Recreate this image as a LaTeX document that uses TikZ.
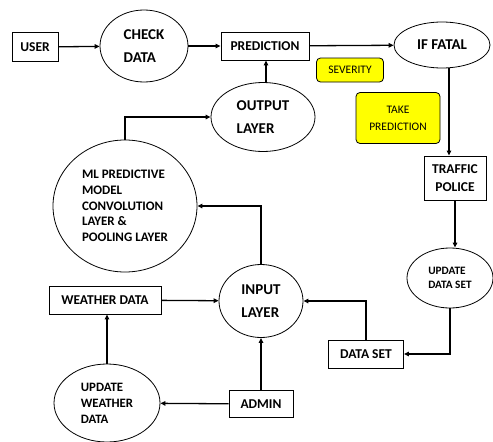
\documentclass[tikz,border=0pt]{standalone}
\usepackage{fontspec}
\setmainfont{Carlito}
\usetikzlibrary{arrows.meta, shapes.geometric, positioning}
\definecolor{noteyellow}{rgb}{1, 1, 0}

\begin{document}
\begin{tikzpicture}[
	x=1pt, y=-1pt,
	texts/.style = {text=black, font=\bfseries\fontsize{13.5}{18}\selectfont},
	bigtexts/.style = {text=black, font=\bfseries\fontsize{15}{23}\selectfont},
	box/.style = {texts, draw, line width=0.9pt, rectangle, inner sep=0pt},
	oval/.style = {bigtexts, draw, line width=0.8pt, ellipse, inner sep=0pt, align=left},
	note/.style = {draw, line width=0.8pt, rounded corners=4pt, fill=noteyellow, inner sep=0pt,
		font=\fontsize{11.5}{16.7}\selectfont, align=center},
	flow/.style = {line width=1.3pt, -{Triangle[length=5pt, width=4.5pt]}}
]
	\useasboundingbox (0,0) rectangle (493,442);

	\node[box, minimum width=46, minimum height=29] (user) at (35,47) {USER};
	\node[oval, minimum width=88, minimum height=72] (check) at (144,46) {CHECK\\DATA};
	\node[box, minimum width=88, minimum height=28] (pred) at (265,46) {PREDICTION};
	\node[oval, minimum width=96, minimum height=46] (iffatal) at (442,45) {IF FATAL};
	\node[note, minimum width=67, minimum height=24] (severity) at (350,70) {SEVERITY};
	\node[note, minimum width=84, minimum height=51] (takepred) at (398,118) {TAKE\\PREDICTION};
	\node[box, align=center, minimum width=62, minimum height=44] (traffic) at (455,178) {TRAFFIC\\POLICE};
	\node[oval, font=\bfseries\fontsize{11.3}{14.7}\selectfont, minimum width=86, minimum height=60] (updds) at (450,278) {UPDATE\\DATA SET};
	\node[box, minimum width=75, minimum height=28] (dataset) at (366,354) {DATA SET};
	\node[oval, minimum width=104, minimum height=69] (output) at (263,117) {OUTPUT\\LAYER};
	\node[oval, font=\bfseries\fontsize{13}{15.7}\selectfont, minimum width=144, minimum height=132] (ml) at (125,206)
		{ML PREDICTIVE\\MODEL\\CONVOLUTION\\LAYER \&\\POOLING LAYER};
	\node[oval, minimum width=84, minimum height=73] (input) at (261,301) {INPUT\\LAYER};
	\node[box, minimum width=112, minimum height=28] (weather) at (105,300) {WEATHER DATA};
	\node[oval, font=\bfseries\fontsize{12.8}{16}\selectfont, minimum width=106, minimum height=78] (uwd) at (107,403)
		{UPDATE\\WEATHER\\DATA};
	\node[box, minimum width=64, minimum height=27] (admin) at (261,404) {ADMIN};

	% top row
	\draw[flow] (user) -- (check);
	\draw[flow] (check) -- (pred);
	\draw[flow] (pred) -- (iffatal);
	\draw[flow] (output.north -| 266,0) -- (pred.south -| 266,0);
	\draw[flow] (ml.north) |- (output.west);

	% right side
	\coordinate (fatalout) at ([xshift=-6pt]traffic.north);
	\draw[flow] (iffatal.south -| fatalout) -- (fatalout);
	\draw[flow] (traffic.south) -- (traffic.south |- updds.north);
	\draw[flow] (updds.south) |- (dataset.east);
	\draw[flow] (dataset.north) |- (input.east);

	% bottom left
	\draw[flow] (admin) -- (input);
	\draw[flow] (admin) -- (uwd);
	\draw[flow] (uwd.north) -- (uwd.north |- weather.south);
	\draw[flow] (weather) -- (input);
	\draw[flow] (input.north) |- (ml.east);
\end{tikzpicture}
\end{document}
